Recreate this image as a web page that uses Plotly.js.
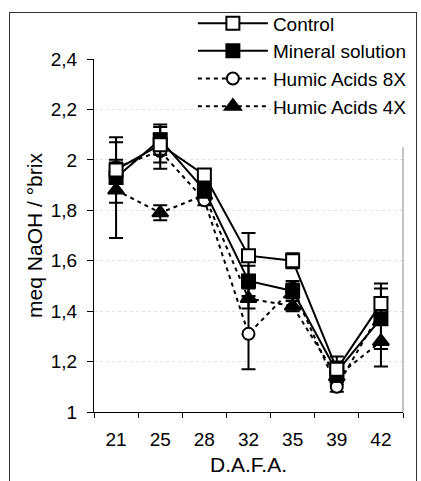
<!DOCTYPE html>
<html>
<head>
<meta charset="utf-8">
<script src="https://cdn.plot.ly/plotly-3.0.1.min.js"></script>
<style>
  html, body { margin: 0; padding: 0; background: #fff; }
  #wrap { position: relative; width: 421px; height: 481px; overflow: hidden; }
  #frame { position: absolute; left: 9px; top: 12px; width: 406px; height: 500px; border: 1px solid #333; pointer-events: none; }
  #chart { position: absolute; left: 0; top: 0; width: 421px; height: 481px; }
</style>
</head>
<body>
<div id="wrap">
  <div id="chart"></div>
  <div id="frame"></div>
</div>
<script>
const categories = ['21', '25', '28', '32', '35', '39', '42'];
const seriesNames = ['Control', 'Mineral solution', 'Humic Acids 8X', 'Humic Acids 4X'];
const control     = [1.96, 2.06, 1.94, 1.62, 1.60, 1.17, 1.43];
const controlErr  = [0.13, 0.07, 0.02, 0.09, 0.03, 0.05, 0.08];
const mineral     = [1.93, 2.08, 1.88, 1.52, 1.48, 1.16, 1.37];
const mineralErr  = [0.06, 0.06, 0.03, 0.06, 0.03, 0.04, 0.12];
const ha8         = [1.97, 2.035, 1.84, 1.31, 1.49, 1.10, 1.40];
const ha8Err      = [0.03, 0.07, 0.02, 0.14, 0.03, 0.02, 0.04];
const ha4         = [1.88, 1.79, 1.86, 1.45, 1.42, 1.14, 1.28];
const ha4Err      = [0.19, 0.03, 0.02, 0.04, 0.02, 0.03, 0.10];
const yTicks = [1, 1.2, 1.4, 1.6, 1.8, 2, 2.2, 2.4];

function mk(name, y, err, symbol, fill, dash, msize) {
  return {
    type: 'scatter', mode: 'lines+markers', name: name,
    x: categories, y: y,
    error_y: { type: 'data', array: err, visible: true, color: '#000', thickness: 2, width: 7 },
    line: { color: '#000', width: 2, dash: dash },
    marker: { symbol: symbol, size: msize, color: fill, line: { color: '#000', width: 2 } }
  };
}

const traces = [
  mk(seriesNames[3], ha4, ha4Err, 'triangle-up', '#000', '4px,4px', 14),
  mk(seriesNames[2], ha8, ha8Err, 'circle', '#fff', '4px,4px', 12),
  mk(seriesNames[1], mineral, mineralErr, 'square', '#000', 'solid', 13),
  mk(seriesNames[0], control, controlErr, 'square', '#fff', 'solid', 13)
];

const fam = '"Liberation Sans", Arial, sans-serif';
const font = { family: fam, size: 19, color: '#000' };

const layout = {
  width: 421, height: 481,
  margin: { l: 94, r: 18, t: 59, b: 69, pad: 0, autoexpand: false },
  paper_bgcolor: '#fff', plot_bgcolor: '#fff',
  font: font,
  separators: ',.',
  showlegend: true,
  legend: {
    x: 0.32, y: 1.155, xanchor: 'left', yanchor: 'top',
    traceorder: 'reversed',
    bgcolor: 'rgba(0,0,0,0)', borderwidth: 0,
    itemwidth: 70, tracegroupgap: 0,
    font: { family: fam, size: 19, color: '#000' }
  },
  xaxis: {
    type: 'category', range: [-0.5, 6.5],
    showline: true, linecolor: '#000', linewidth: 1,
    ticks: 'outside', ticklen: 5, tickcolor: '#000', tickson: 'boundaries',
    ticklabelstandoff: 10,
    showgrid: false, zeroline: false,
    tickfont: font,
    title: { text: 'D.A.F.A.', font: { family: fam, size: 21, color: '#000' }, standoff: 8 }
  },
  yaxis: {
    range: [1, 2.4], tickvals: yTicks,
    showline: true, linecolor: '#000', linewidth: 1,
    ticks: 'outside', ticklen: 6, tickcolor: '#000',
    ticklabelstandoff: 6,
    showgrid: true, gridcolor: '#e2e2e2', griddash: 'dot', gridwidth: 1,
    zeroline: false,
    tickfont: font,
    title: { text: 'meq NaOH / °brix', font: { family: fam, size: 21, color: '#000' }, standoff: 2 }
  },
  shapes: [
    { type: 'line', xref: 'paper', yref: 'y', x0: 1, x1: 1, y0: 1, y1: 2.05, line: { color: '#888', width: 1 } }
  ]
};

Plotly.newPlot('chart', traces, layout, { staticPlot: true, displayModeBar: false });
</script>
</body>
</html>
